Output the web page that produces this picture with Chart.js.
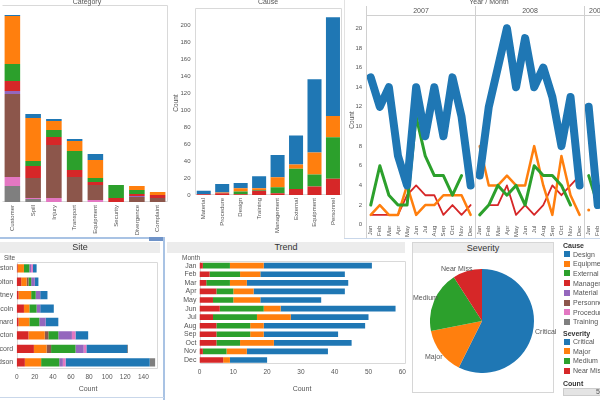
<!DOCTYPE html>
<html>
<head>
<meta charset="utf-8">
<script src="https://cdn.jsdelivr.net/npm/chart.js@4/dist/chart.umd.min.js"></script>
<style>
  body { margin:0; width:600px; height:400px; overflow:hidden; position:relative; background:#fff;
         font-family:"Liberation Sans", Arial, sans-serif; color:#444; }
  canvas { position:absolute; display:block; }
  .t { position:absolute; white-space:nowrap; font-size:7px; color:#555; line-height:1; }
  .c { transform:translate(-50%,-50%); }
  .r { transform:translate(-50%,-50%) rotate(-90deg); }
  .bar { position:absolute; background:#ececec; font-size:9px; color:#333; text-align:center; line-height:10px; }
  .ln { position:absolute; }
  .sw { position:absolute; width:6px; height:6px; }
</style>
</head>
<body>

<canvas id="cCat" width="170" height="235" style="left:0;top:0"></canvas>
<canvas id="cCause" width="180" height="235" style="left:165px;top:0"></canvas>
<canvas id="cLine" width="280" height="240" style="left:343px;top:0"></canvas>
<canvas id="cSite" width="195" height="165" style="left:-30px;top:235px"></canvas>
<canvas id="cTrend" width="245" height="165" style="left:165px;top:235px"></canvas>
<canvas id="cPie" width="104" height="104" style="left:430px;top:269px"></canvas>

<!-- upper titles -->
<div class="t c" style="left:87px;top:1px">Category</div>
<div class="t c" style="left:268px;top:1px">Cause</div>
<div class="t r" style="left:176px;top:103px;font-size:6.5px">Count</div>
<div class="t c" style="left:489px;top:1px">Year / Month</div>
<div class="t c" style="left:421px;top:10px">2007</div>
<div class="t c" style="left:530px;top:10px">2008</div>
<div class="t" style="left:589px;top:7px">2009</div>
<div class="t r" style="left:352px;top:120px;font-size:6.5px">Count</div>
<div class="ln" style="left:344px;top:0;width:1px;height:239px;background:#e2e2e2"></div>
<div class="ln" style="left:344px;top:238px;width:256px;height:1px;background:#c9d7ea"></div>

<!-- site panel -->
<div class="ln" style="left:0;top:237px;width:164px;height:2px;background:#a9c3e4"></div>
<div class="ln" style="left:163px;top:237px;width:2px;height:163px;background:#a9c3e4"></div>
<div class="ln" style="left:0;top:397px;width:164px;height:1px;background:#c9d7ea"></div>
<div class="ln" style="left:149px;top:237px;width:14px;height:4px;background:#6f93c8"></div>
<div class="bar" style="left:0;top:242px;width:160px;height:11px">Site</div>
<div class="t" style="left:4px;top:255px;font-size:6.5px">Site</div>
<div class="t c" style="left:88px;top:388px">Count</div>

<!-- trend panel -->
<div class="bar" style="left:167px;top:242px;width:238px;height:11px">Trend</div>
<div class="t" style="left:182px;top:255px;font-size:6.5px">Month</div>
<div class="t c" style="left:302px;top:388px">Count</div>

<!-- severity panel -->
<div class="ln" style="left:412px;top:242px;width:140px;height:149px;border:1px solid #d6d6d6"></div>
<div class="bar" style="left:413px;top:243px;width:140px;height:10px">Severity</div>
<div class="t" style="left:535px;top:328px">Critical</div>
<div class="t" style="left:425px;top:353px">Major</div>
<div class="t" style="left:413px;top:294px">Medium</div>
<div class="t" style="left:441px;top:265px">Near Miss</div>

<!-- legend -->
<div id="legend"></div>

<script>
// ---- data ----
const causes = ['Design', 'Equipment', 'External', 'Management', 'Material', 'Personnel', 'Procedure', 'Training'];
const causeColors = ['#1f77b4', '#ff7f0e', '#2ca02c', '#d62728', '#9467bd', '#8c564b', '#e377c2', '#7f7f7f'];
const severities = ['Critical', 'Major', 'Medium', 'Near Miss'];
const sevColors = ['#1f77b4', '#ff7f0e', '#2ca02c', '#d62728'];

// Category chart (stack bottom -> top: Training, Procedure, Personnel, Material, Management, External, Equipment, Design)
const categories = ['Customer', 'Spill', 'Injury', 'Transport', 'Equipment', 'Security', 'Divergence', 'Complaint'];
const catTraining   = [16, 3, 0, 0, 0, 0, 0, 0];
const catProcedure  = [9, 1, 4, 0, 2, 0, 0, 0];
const catPersonnel  = [83, 20, 53, 25, 15, 0, 5, 4];
const catMaterial   = [3, 0, 0, 0, 0, 0, 1, 0];
const catManagement = [10, 12, 8, 7, 3, 4, 2, 3];
const catExternal   = [17, 5, 7, 19, 4, 13, 4, 0];
const catEquipment  = [48, 43, 9, 10, 18, 0, 4, 3];
const catDesign     = [1, 4, 2, 2, 6, 0, 0, 0];

// Cause chart
const causeOrder    = ['Material', 'Procedure', 'Design', 'Training', 'Management', 'External', 'Equipment', 'Personnel'];
const causeNearMiss = [1, 2, 1, 5, 2, 7, 10, 19];
const causeMedium   = [0, 0, 3, 1, 7, 24, 14, 49];
const causeMajor    = [0, 1, 4, 2, 12, 5, 26, 25];
const causeCritical = [4, 10, 6, 14, 26, 34, 86, 116];
const causeTicks    = [0, 20, 40, 60, 80, 100, 120, 140, 160, 180, 200];

// Year / Month lines
const months = ['Jan', 'Feb', 'Mar', 'Apr', 'May', 'Jun', 'Jul', 'Aug', 'Sep', 'Oct', 'Nov', 'Dec'];
const monthLabels = months.concat(months, ['Jan', 'Feb']);
const critical2007 = [15, 12, 14, 7, 4, 14, 9, 14, 9, 15, 11, 4];
const critical2008 = [5, 12, 16, 20, 14, 19, 14, 16, 13, 8, 13, 4];
const critical2009 = [12, 2];
const major2007 = [1, 2, 1, 1, 4, 1, 2, 2, 3, 3, 3, 1];
const major2008 = [8, 4, 4, 5, 4, 4, 8, 4, 1, 7, 3, 1];
const major2009 = [1.5, null];
const medium2007 = [2, 6, 3, 2, 2, 11, 7, 5, 5, 3, 5, null];
const medium2008 = [1, 2, 4, 3, 4, 2, 6, 5, 5, 4, 2, null];
const medium2009 = [5, 2];
const nearMiss2007 = [1, 1, 1, 1, 3, 4, 3, 3, 1, 2, 1, 2];
const nearMiss2008 = [null, 2, 2, 4, 1, 2, 1, 2, 4, 3, 4, 5];
const nearMiss2009 = [null, null];
const countTicks = [0, 2, 4, 6, 8, 10, 12, 14, 16, 18, 20];

// Site chart (left -> right)
const sites = ['Weston', 'Bolton', 'Whitney', 'Lincoln', 'Maynard', 'Acton', 'Concord', 'Hudson'];
const siteManagement = [1, 5, 2, 8, 2, 13, 19, 9];
const siteEquipment  = [7, 6, 14, 6, 12, 18, 14, 18];
const sitePersonnel  = [0, 2, 0, 0, 0, 4, 5, 0];
const siteExternal   = [6, 3, 5, 8, 11, 11, 27, 20];
const siteMaterial   = [2, 4, 5, 4, 7, 15, 9, 4];
const siteProcedure  = [2, 0, 0, 0, 0, 4, 3, 3];
const siteDesign     = [4, 4, 8, 15, 14, 14, 45, 93];
const siteTraining   = [0, 0, 0, 0, 0, 0, 1, 6];
const siteTicks      = [0, 20, 40, 60, 80, 100, 120, 140];

// Trend chart (left -> right: Near Miss, Medium, Major, Critical)
const trendNearMiss = [1, 3, 2, 5, 4, 6, 4, 5, 5, 5, 1, 7];
const trendMedium   = [8, 9, 7, 5, 6, 13, 13, 10, 10, 7, 7, 0];
const trendMajor    = [10, 6, 5, 6, 8, 5, 10, 4, 4, 10, 6, 2];
const trendCritical = [32, 25, 30, 27, 18, 34, 23, 30, 22, 23, 24, 11];
const trendTicks    = [0, 10, 20, 30, 40, 50, 60];

// Severity pie
const severityTotals = [296, 75, 98, 47];

// ---- shared setup ----
Chart.defaults.font.family = '"Liberation Sans", Arial, sans-serif';
Chart.defaults.font.size = 7;
Chart.defaults.color = '#555';

function col(name) { return causeColors[causes.indexOf(name)]; }
function fixW(w) { return s => { s.width = w; }; }
function fixH(h) { return s => { s.height = h; }; }
function useTicks(list) { return s => { s.ticks = list.map(v => ({ value: v })); }; }
const noGrid = { display: false, drawTicks: false };

// light frame around the plot area
const framePlugin = {
  id: 'frame',
  beforeDatasetsDraw(chart, args, opts) {
    const a = chart.chartArea, c = chart.ctx;
    const sides = opts.sides || 'ltrb';
    const l = Math.round(a.left) + 0.5, r = Math.round(a.right) - 0.5;
    const t = Math.round(a.top) + 0.5, b = Math.round(a.bottom) - 0.5;
    c.save();
    c.strokeStyle = opts.color || '#d9d9d9';
    c.lineWidth = 1;
    c.beginPath();
    if (sides.includes('l')) { c.moveTo(l, t); c.lineTo(l, b); }
    if (sides.includes('t')) { c.moveTo(l, t); c.lineTo(r, t); }
    if (sides.includes('r')) { c.moveTo(r, t); c.lineTo(r, b); }
    if (sides.includes('b')) { c.moveTo(l, b); c.lineTo(r, b); }
    c.stroke();
    c.restore();
  }
};

const base = { responsive: false, animation: false, events: [] };
const quiet = { legend: { display: false }, tooltip: { enabled: false } };

// ---- Category ----
new Chart(document.getElementById('cCat'), {
  type: 'bar',
  data: {
    labels: categories,
    datasets: [
      ['Training', catTraining], ['Procedure', catProcedure], ['Personnel', catPersonnel],
      ['Material', catMaterial], ['Management', catManagement], ['External', catExternal],
      ['Equipment', catEquipment], ['Design', catDesign]
    ].map(([n, d]) => ({ label: n, data: d, backgroundColor: col(n), borderWidth: 0,
                         barPercentage: 0.75, categoryPercentage: 1 }))
  },
  options: Object.assign({}, base, {
    layout: { padding: { left: 2, right: 2, top: 5, bottom: 0 } },
    scales: {
      x: { stacked: true, grid: noGrid, border: { display: false },
           ticks: { minRotation: 90, maxRotation: 90, autoSkip: false, padding: 3, font: { size: 6 } },
           afterFit: fixH(33) },
      y: { stacked: true, display: false, min: 0, max: 197 }
    },
    plugins: Object.assign({ frame: { sides: 'trb' } }, quiet)
  }),
  plugins: [framePlugin]
});

// ---- Cause ----
new Chart(document.getElementById('cCause'), {
  type: 'bar',
  data: {
    labels: causeOrder,
    datasets: [
      [severities[3], causeNearMiss, sevColors[3]], [severities[2], causeMedium, sevColors[2]],
      [severities[1], causeMajor, sevColors[1]], [severities[0], causeCritical, sevColors[0]]
    ].map(([n, d, c]) => ({ label: n, data: d, backgroundColor: c, borderWidth: 0,
                            barPercentage: 0.76, categoryPercentage: 1 }))
  },
  options: Object.assign({}, base, {
    layout: { padding: { left: 0, right: 2.8, top: 6, bottom: 0 } },
    scales: {
      x: { stacked: true, grid: noGrid, border: { display: false },
           ticks: { minRotation: 90, maxRotation: 90, autoSkip: false, padding: 3, font: { size: 6 } },
           afterFit: fixH(40) },
      y: { stacked: true, min: 0, max: 220.4, grid: noGrid, border: { display: false },
           ticks: { padding: 4, font: { size: 6 } },
           afterBuildTicks: useTicks(causeTicks), afterFit: fixW(29.5) }
    },
    plugins: Object.assign({ frame: { sides: 'ltrb' } }, quiet)
  }),
  plugins: [framePlugin]
});

// ---- Year / Month lines ----
const yearBreak = c => (c.p0DataIndex === 11 || c.p0DataIndex === 23) ? 'rgba(0,0,0,0)' : undefined;
const panelLines = {
  id: 'panels',
  afterDraw(chart) {
    const c = chart.ctx, x = chart.scales.x, a = chart.chartArea;
    const half = (x.getPixelForValue(1) - x.getPixelForValue(0)) / 2;
    c.save();
    c.strokeStyle = '#d0d0d0';
    c.lineWidth = 1;
    c.beginPath();
    [0, 12, 24].forEach(i => {
      const px = Math.round(x.getPixelForValue(i) - half) + 0.5;
      c.moveTo(px, 6); c.lineTo(px, 238);
    });
    c.moveTo(a.left, Math.round(a.top) + 0.5); c.lineTo(a.right, Math.round(a.top) + 0.5);
    c.stroke();
    c.restore();
  }
};
function lineSet(label, data, color, width) {
  return {
    label, data, borderColor: color, backgroundColor: color, borderWidth: width,
    borderCapStyle: 'round', borderJoinStyle: 'round', tension: 0, spanGaps: false,
    pointRadius: c => {
      const d = c.dataset.data, i = c.dataIndex;
      const prev = (i % 12 === 0) ? null : d[i - 1], next = (i % 12 === 11 || i === d.length - 1) ? null : d[i + 1];
      return (d[i] != null && prev == null && next == null) ? 1.5 : 0;
    },
    pointBorderWidth: 0,
    segment: { borderColor: yearBreak }
  };
}
new Chart(document.getElementById('cLine'), {
  type: 'line',
  data: {
    labels: monthLabels,
    datasets: [
      lineSet(severities[0], critical2007.concat(critical2008, critical2009), sevColors[0], 8),
      lineSet(severities[2], medium2007.concat(medium2008, medium2009), sevColors[2], 3),
      lineSet(severities[1], major2007.concat(major2008, major2009), sevColors[1], 2.5),
      lineSet(severities[3], nearMiss2007.concat(nearMiss2008, nearMiss2009), sevColors[3], 1.8)
    ]
  },
  options: Object.assign({}, base, {
    layout: { padding: { left: 0, right: 20.7, top: 15, bottom: 0 } },
    scales: {
      x: { type: 'category', offset: true, grid: noGrid, border: { display: false },
           ticks: { minRotation: 90, maxRotation: 90, autoSkip: false, padding: 1, font: { size: 6 } },
           afterFit: fixH(15.3) },
      y: { min: 0, max: 21.35, grid: noGrid, border: { display: false },
           ticks: { padding: 4, font: { size: 6 } },
           afterBuildTicks: useTicks(countTicks), afterFit: fixW(23.2) }
    },
    plugins: quiet
  }),
  plugins: [panelLines]
});

// ---- Site ----
new Chart(document.getElementById('cSite'), {
  type: 'bar',
  data: {
    labels: sites,
    datasets: [
      ['Management', siteManagement], ['Equipment', siteEquipment], ['Personnel', sitePersonnel],
      ['External', siteExternal], ['Material', siteMaterial], ['Procedure', siteProcedure],
      ['Design', siteDesign], ['Training', siteTraining]
    ].map(([n, d]) => ({ label: n, data: d, backgroundColor: col(n), borderWidth: 0,
                         barPercentage: 0.62, categoryPercentage: 1 }))
  },
  options: Object.assign({}, base, {
    indexAxis: 'y',
    layout: { padding: { left: 0, right: 6.7, top: 26.6, bottom: 0 } },
    scales: {
      x: { stacked: true, min: 0, max: 156.5, grid: noGrid, border: { display: false },
           ticks: { padding: 4, font: { size: 6.5 }, autoSkip: false },
           afterBuildTicks: useTicks(siteTicks), afterFit: fixH(31) },
      y: { stacked: true, grid: noGrid, border: { display: false },
           ticks: { padding: 3.5, autoSkip: false }, afterFit: fixW(46.7) }
    },
    plugins: Object.assign({ frame: {} }, quiet)
  }),
  plugins: [framePlugin]
});

// ---- Trend ----
new Chart(document.getElementById('cTrend'), {
  type: 'bar',
  data: {
    labels: months,
    datasets: [
      [severities[3], trendNearMiss, sevColors[3]], [severities[2], trendMedium, sevColors[2]],
      [severities[1], trendMajor, sevColors[1]], [severities[0], trendCritical, sevColors[0]]
    ].map(([n, d, c]) => ({ label: n, data: d, backgroundColor: c, borderWidth: 0,
                            barPercentage: 0.66, categoryPercentage: 1 }))
  },
  options: Object.assign({}, base, {
    indexAxis: 'y',
    layout: { padding: { left: 0, right: 4.3, top: 26.4, bottom: 0 } },
    scales: {
      x: { stacked: true, min: 0, max: 61, grid: noGrid, border: { display: false },
           ticks: { padding: 4, font: { size: 6.5 }, autoSkip: false },
           afterBuildTicks: useTicks(trendTicks), afterFit: fixH(35.7) },
      y: { stacked: true, grid: noGrid, border: { display: false },
           ticks: { padding: 3, autoSkip: false }, afterFit: fixW(34.5) }
    },
    plugins: Object.assign({ frame: {} }, quiet)
  }),
  plugins: [framePlugin]
});

// ---- Severity pie ----
new Chart(document.getElementById('cPie'), {
  type: 'pie',
  data: { labels: severities, datasets: [{ data: severityTotals, backgroundColor: sevColors, borderWidth: 0 }] },
  options: Object.assign({}, base, { layout: { padding: 0 }, plugins: quiet })
});

// ---- legend (plain text) ----
const lg = document.getElementById('legend');
function addText(txt, x, y, bold) {
  const d = document.createElement('div');
  d.className = 't';
  d.style.left = x + 'px'; d.style.top = (y - 3.5) + 'px';
  if (bold) { d.style.fontWeight = 'bold'; d.style.color = '#333'; }
  d.textContent = txt;
  lg.appendChild(d);
}
function addSwatch(color, y) {
  const s = document.createElement('div');
  s.className = 'sw';
  s.style.left = '564px'; s.style.top = (y - 3) + 'px'; s.style.background = color;
  lg.appendChild(s);
}
addText('Cause', 563, 245, true);
const causeLegendNames = ['Design', 'Equipment', 'External', 'Managem...', 'Material', 'Personnel', 'Procedure', 'Training'];
causeLegendNames.forEach((n, i) => { const y = 254 + i * 9.7; addSwatch(causeColors[i], y); addText(n, 573, y); });
addText('Severity', 563, 333, true);
severities.forEach((n, i) => { const y = 341.5 + i * 9.7; addSwatch(sevColors[i], y); addText(n, 573, y); });
addText('Count', 563, 383, true);
const cb = document.createElement('div');
cb.className = 'ln';
cb.style.cssText = 'left:563px;top:388px;width:40px;height:6px;background:#e4e4e4;border:1px solid #ccc';
lg.appendChild(cb);
addText('5', 596, 391);
</script>
</body>
</html>
